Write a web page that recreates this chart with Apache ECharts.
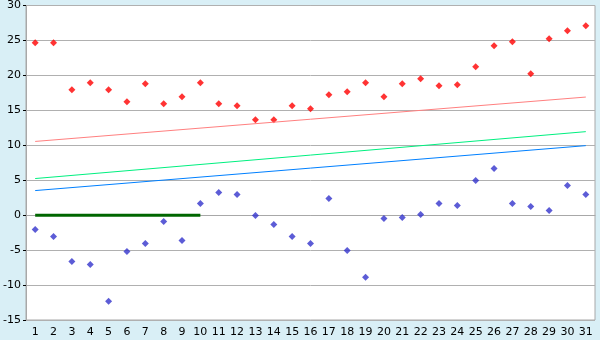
<!DOCTYPE html>
<html><head><meta charset="utf-8">
<script src="https://cdn.jsdelivr.net/npm/echarts@6/dist/echarts.min.js"></script>
<style>html,body{margin:0;padding:0;background:#d9eff6;}#c{width:600px;height:340px;}</style>
</head><body><div id="c"></div>
<script>
var categories = ['1','2','3','4','5','6','7','8','9','10','11','12','13','14','15','16','17','18','19','20','21','22','23','24','25','26','27','28','29','30','31'];
var redPoints = [24.67,24.67,17.95,18.95,17.95,16.24,18.81,15.95,16.95,18.95,15.95,15.67,13.67,13.67,15.67,15.24,17.24,17.67,18.95,16.95,18.81,19.52,18.52,18.67,21.24,24.24,24.81,20.24,25.24,26.38,27.1];
var bluePoints = [-2.05,-3.05,-6.62,-7.05,-12.33,-5.19,-4.05,-0.9,-3.62,1.67,3.24,2.95,-0.05,-1.33,-3.05,-4.05,2.38,-5.05,-8.9,-0.48,-0.33,0.1,1.67,1.38,4.95,6.67,1.67,1.24,0.67,4.24,2.95];
var redTrend = [[0,10.55],[30,16.9]];
var greenTrend = [[0,5.24],[30,11.95]];
var blueTrend = [[0,3.52],[30,9.95]];
var zeroLine = [[0,0],[9,0]];
var yMin = -15, yMax = 30, yStep = 5;

var chart = echarts.init(document.getElementById('c'));
var font = 'DejaVu Sans';
chart.setOption({
  backgroundColor: '#d9eff6',
  animation: false,
  grid: {left: 26, top: 5, right: 5, bottom: 20, show: true, backgroundColor: '#ffffff', borderColor: '#a8a8a8', borderWidth: 1},
  xAxis: {
    type: 'category', data: categories, boundaryGap: true,
    axisLine: {lineStyle: {color: '#a8a8a8'}},
    axisTick: {alignWithLabel: true, length: 5, lineStyle: {color: '#000'}},
    axisLabel: {color: '#000', fontFamily: font, fontSize: 11, margin: 7, interval: 0},
    splitLine: {show: false}
  },
  yAxis: {
    type: 'value', min: yMin, max: yMax, interval: yStep,
    axisLine: {show: true, lineStyle: {color: '#a8a8a8'}},
    axisTick: {show: true, length: 3, lineStyle: {color: '#000'}},
    axisLabel: {color: '#000', fontFamily: font, fontSize: 11, margin: 5},
    splitLine: {lineStyle: {color: '#b0b0b0', width: 1}}
  },
  series: [
    {type: 'line', data: redTrend, symbol: 'none', lineStyle: {color: '#ff8080', width: 1}},
    {type: 'line', data: greenTrend, symbol: 'none', lineStyle: {color: '#00f080', width: 1}},
    {type: 'line', data: blueTrend, symbol: 'none', lineStyle: {color: '#0080ff', width: 1}},
    {type: 'line', data: zeroLine, symbol: 'none', lineStyle: {color: '#006600', width: 3}},
    {type: 'scatter', data: redPoints, symbol: 'diamond', symbolSize: 7, itemStyle: {color: '#ff0000'}},
    {type: 'scatter', data: bluePoints, symbol: 'diamond', symbolSize: 7, itemStyle: {color: '#3333cc'}}
  ]
});
</script></body></html>
